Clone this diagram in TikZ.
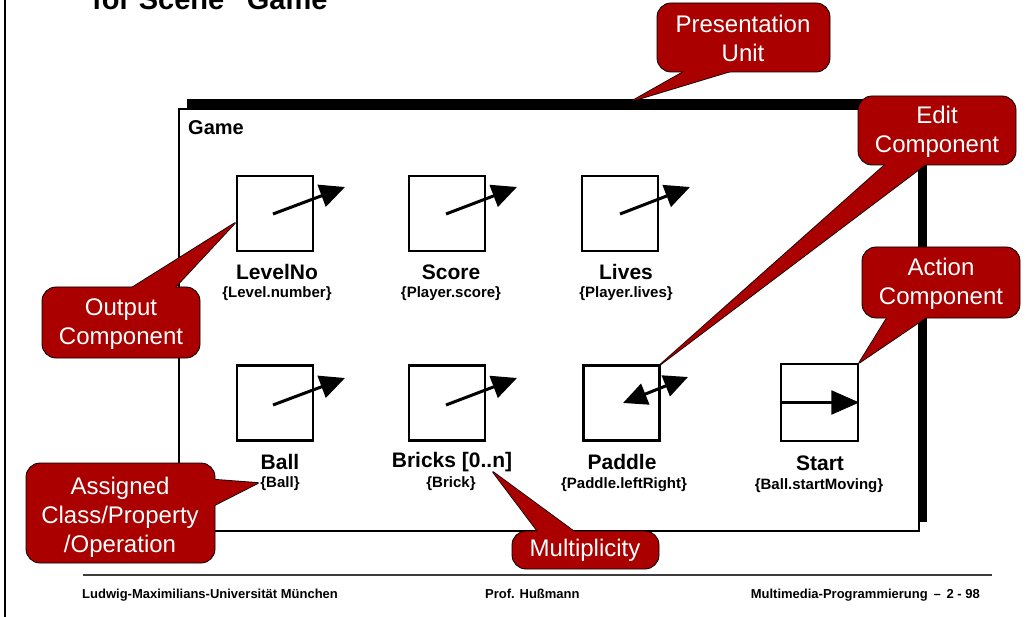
\documentclass[tikz,border=0pt]{standalone}
\usepackage{fontspec}
\setmainfont{Liberation Sans}
\usetikzlibrary{arrows.meta}
\definecolor{cored}{RGB}{170,0,0}
\definecolor{footgray}{RGB}{60,60,60}
% #1,#2 rectangle corners, #3 tip, #4,#5 pointer base points (inside the rectangle)
\newcommand{\mycallout}[5]{%
  \draw[fill=cored, line width=1.6pt, line join=round] #4 -- #3 -- #5 -- cycle;
  \draw[fill=cored, line width=0.8pt, rounded corners=14pt] #1 rectangle #2;
  \fill[cored] #4 -- #3 -- #5 -- cycle;
}
\begin{document}
\begin{tikzpicture}[x=1pt,y=-1pt,
  comp/.style={draw, line width=2.5pt, minimum width=76pt, minimum height=75pt, inner sep=0pt},
  compname/.style={font=\bfseries\fontsize{21}{24}\selectfont, inner sep=0pt},
  compprop/.style={font=\bfseries\fontsize{15}{18}\selectfont, inner sep=0pt},
  ctext/.style={text=white, align=center, font=\fontsize{24}{29}\selectfont, inner sep=0pt},
  ptr/.style={line width=3pt, -{Triangle[length=25pt,width=23pt]}},
  dptr/.style={line width=3pt, {Triangle[length=24pt,width=22pt]}-{Triangle[length=24pt,width=22pt]}},
  sptr/.style={line width=2.5pt, -{Triangle[length=28pt,width=24pt]}},
  foot/.style={font=\bfseries\fontsize{13}{15}\selectfont, inner sep=0pt}
]
\useasboundingbox (0,0) rectangle (1032,617);
\fill[white] (0,0) rectangle (1032,617);

% title (cut off at top, as in the reference)
\node[anchor=base west, font=\bfseries\fontsize{29}{32}\selectfont, inner sep=0pt] (title) at (92,10) {for Scene “Game”};

% left edge line
\draw[line width=1.5pt] (5,-2) -- (5,619);

% presentation unit frame with shadow
\fill (187,99) rectangle (927,522);
\node[draw, line width=1.6pt, fill=white, minimum width=740pt, minimum height=422pt, inner sep=0pt, anchor=north west] (game) at (178,108) {};
\node[anchor=west, font=\bfseries\fontsize{20}{24}\selectfont, inner sep=0pt] (gamelbl) at (188,128) {Game};

% top row
\node[comp] (levelno) at (275,213.5) {};
\node[comp] (score) at (447,213.5) {};
\node[comp] (lives) at (620,213.5) {};
\draw[ptr] ([shift={(-2,0.5)}]levelno.center) -- ++(72,-27);
\draw[ptr] ([shift={(-1,0.5)}]score.center) -- ++(71,-27);
\draw[ptr] ([shift={(0,0.5)}]lives.center) -- ++(70,-27);
\node[compname] (levelnoN) at (277,272) {LevelNo};
\node[compprop] (levelnoP) at (277,294) {\{Level.number\}};
\node[compname] (scoreN) at (451,272) {Score};
\node[compprop] (scoreP) at (451,294) {\{Player.score\}};
\node[compname] (livesN) at (626,272) {Lives};
\node[compprop] (livesP) at (626,294) {\{Player.lives\}};

% bottom row
\node[comp] (ball) at (275,403) {};
\node[comp] (bricks) at (447,403) {};
\node[comp] (paddle) at (621.5,403) {};
\node[comp, minimum width=77pt, minimum height=77pt] (start) at (819.5,402.5) {};
\draw[ptr] ([shift={(-2,2)}]ball.center) -- ++(72,-27);
\draw[ptr] ([shift={(-1,2)}]bricks.center) -- ++(71,-27);
\draw[dptr] ([shift={(1.5,0)}]paddle.center) -- ++(65,-26);
\draw[sptr] (start.west) -- (start.east);
\node[compname] (ballN) at (280,462) {Ball};
\node[compprop] (ballP) at (280,484) {\{Ball\}};
\node[compname] (bricksN) at (452,462) {Bricks [0..n]};
\node[compprop] (bricksP) at (451,484) {\{Brick\}};
\node[compname] (paddleN) at (622,462) {Paddle};
\node[compprop] (paddleP) at (624,485) {\{Paddle.leftRight\}};
\node[compname] (startN) at (820,463) {Start};
\node[compprop] (startP) at (819,486) {\{Ball.startMoving\}};

% callouts
\mycallout{(657,3)}{(830,72)}{(632,101)}{(701,62)}{(761,62)}
\node[ctext] (cPres) at (743,38) {Presentation\\Unit};

\mycallout{(858,96)}{(1016,165)}{(paddle.north east)}{(896,155)}{(938,155)}
\node[ctext] (cEdit) at (937,132) {Edit\\Component};

\mycallout{(862,247)}{(1020,318)}{(start.north east)}{(893,308)}{(940,308)}
\node[ctext] (cAction) at (941,284) {Action\\Component};

\mycallout{(42,287)}{(200,358)}{(235,223)}{(117,297)}{(166,297)}
\node[ctext] (cOutput) at (121,324) {Output\\Component};

\mycallout{(26,463)}{(215,563)}{(258,483)}{(205,479)}{(205,510)}
\node[ctext] (cAssigned) at (120,517) {Assigned\\Class/Property\\/Operation};

\mycallout{(512,531)}{(659,569)}{(493,472)}{(545,541)}{(587,541)}
\node[ctext] (cMult) at (585,550) {Multiplicity};

% footer
\draw[line width=1.3pt, footgray] (83,575) -- (992,575);
\node[foot, anchor=base west] (f1) at (82,598) {Ludwig-Maximilians-Universität München};
\node[foot, anchor=base west] (f2) at (485,598) {Prof. Hußmann};
\node[foot, anchor=base east] (f3) at (980,598) {Multimedia-Programmierung \,–\, 2 - 98};
\end{tikzpicture}
\end{document}
